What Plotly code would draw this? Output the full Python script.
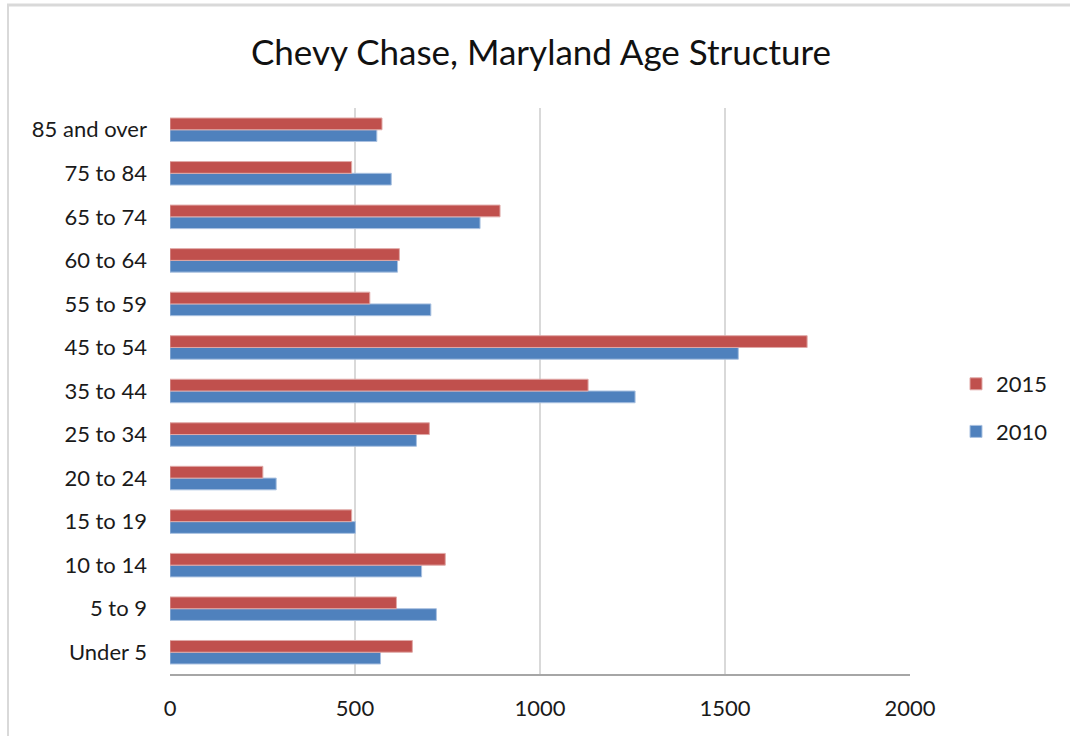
import plotly.graph_objects as go

# Age groups, bottom to top as drawn on the y axis
age_groups = ["Under 5", "5 to 9", "10 to 14", "15 to 19", "20 to 24", "25 to 34",
              "35 to 44", "45 to 54", "55 to 59", "60 to 64", "65 to 74",
              "75 to 84", "85 and over"]

pop_2010 = [569, 720, 680, 501, 287, 666, 1257, 1536, 705, 615, 838, 598, 559]
pop_2015 = [655, 612, 744, 491, 251, 701, 1130, 1722, 540, 620, 892, 491, 573]

x_ticks = [0, 500, 1000, 1500, 2000]

FONT = "Lato, 'Open Sans', sans-serif"

fig = go.Figure()
# 2010 first so it sits below 2015 within each age group
fig.add_trace(go.Bar(
    y=age_groups, x=pop_2010, name="2010", orientation="h",
    legendgroup="2010", legendrank=2,
    marker=dict(color="#4F81BD", line=dict(color="#a9c1e0", width=1)),
))
fig.add_trace(go.Bar(
    y=age_groups, x=pop_2015, name="2015", orientation="h",
    legendgroup="2015", legendrank=1,
    marker=dict(color="#C0504D", line=dict(color="#e0a9a7", width=1)),
))

fig.update_layout(
    width=1070, height=736,
    paper_bgcolor="white", plot_bgcolor="white",
    margin=dict(l=170, r=160, t=108, b=62),
    barmode="group", bargap=0.46, bargroupgap=0,
    font=dict(family=FONT, size=22, color="#1a1a1a"),
    title=dict(text="Chevy Chase, Maryland Age Structure",
               x=541 / 1070, xanchor="center", y=1 - 53 / 736, yanchor="middle",
               font=dict(family=FONT, size=35, color="#111111")),
    xaxis=dict(range=[0, 2000], tickvals=x_ticks, ticktext=[str(v) for v in x_ticks],
               showgrid=True, gridcolor="#d9d9d9", gridwidth=2,
               showline=True, linecolor="#a6a6a6", linewidth=2,
               zeroline=False, ticks="", ticklen=0, ticklabelstandoff=14,
               tickfont=dict(size=22), automargin=False),
    yaxis=dict(categoryorder="array", categoryarray=age_groups,
               showgrid=False, zeroline=False, showline=False,
               ticks="", ticklen=0, ticklabelstandoff=22,
               tickfont=dict(size=22), automargin=False),
    legend=dict(traceorder="grouped", x=(956 - 170) / 740, xanchor="left",
                y=(674 - 408) / 566, yanchor="middle",
                font=dict(size=22), itemwidth=30, tracegroupgap=16,
                bgcolor="rgba(0,0,0,0)"),
    shapes=[
        # chart frame: top and left edges
        dict(type="line", xref="paper", yref="paper",
             x0=-163 / 740, x1=(1070 - 170) / 740, y0=1 + 103 / 566, y1=1 + 103 / 566,
             line=dict(color="#d9d9d9", width=3)),
        dict(type="line", xref="paper", yref="paper",
             x0=-162 / 740, x1=-162 / 740, y0=1 + 103 / 566, y1=-62 / 566,
             line=dict(color="#d9d9d9", width=2)),
    ],
)

fig.write_html("out.html")
